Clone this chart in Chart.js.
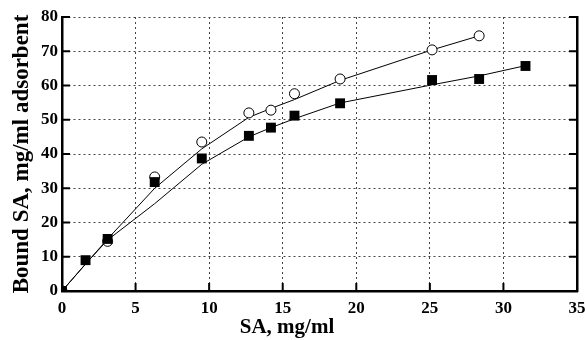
<!DOCTYPE html>
<html>
<head>
<meta charset="utf-8">
<script src="https://cdn.jsdelivr.net/npm/chart.js@4/dist/chart.umd.min.js"></script>
<style>
  body { margin: 0; background: #fff; }
  canvas { display: block; }
</style>
</head>
<body>
<canvas id="isoChart" width="585" height="340"></canvas>
<script>
// open circles
const saCircle = [0, 3.1, 6.3, 9.5, 12.7, 14.2, 15.8, 18.9, 25.15, 28.35];
const boundCircle = [0, 14.5, 33.3, 43.5, 52, 52.8, 57.6, 61.9, 70.4, 74.5];
const fitCircle = [0, 15.2, 30, 41.5, 50.7, 53.3, 55.9, 61.5, 70.4, 74.5];

// filled squares
const saSquare = [0, 1.6, 3.1, 6.3, 9.5, 12.7, 14.2, 15.8, 18.9, 25.15, 28.35, 31.5];
const boundSquare = [0, 9, 15.2, 31.8, 38.7, 45.3, 47.7, 51.2, 54.8, 61.6, 61.9, 65.7];
const fitSquare = [0, 7.9, 14.9, 25.5, 37.0, 45.0, 47.7, 50.3, 54.9, 60.2, 62.8, 65.8];

const xTitle = 'SA, mg/ml';
const yTitle = 'Bound SA, mg/ml adsorbent';

const toXY = (xs, ys) => xs.map((x, i) => ({x: x, y: ys[i]}));

const serif = 'Liberation Serif';

// inward tick marks and the axis titles
const framePlugin = {
  id: 'frame',
  afterDraw(chart) {
    const {ctx, chartArea: a, scales} = chart;
    ctx.save();
    ctx.strokeStyle = '#000';
    ctx.lineWidth = 2;
    ctx.beginPath();
    scales.x.ticks.forEach(t => {
      const px = scales.x.getPixelForValue(t.value);
      if (t.value > 0 && t.value < 35) {
        ctx.moveTo(px, a.bottom);
        ctx.lineTo(px, a.bottom - 8);
      }
    });
    scales.y.ticks.forEach(t => {
      const py = scales.y.getPixelForValue(t.value);
      if (t.value > 0) {
        ctx.moveTo(a.left, py);
        ctx.lineTo(a.left + 8, py);
        ctx.moveTo(a.right, py);
        ctx.lineTo(a.right - 8, py);
      }
    });
    ctx.stroke();

    ctx.fillStyle = '#000';
    ctx.font = 'bold 21px "' + serif + '"';
    ctx.textAlign = 'center';
    ctx.textBaseline = 'alphabetic';
    ctx.fillText(xTitle, 287, 333);

    ctx.translate(28, (a.top + a.bottom) / 2);
    ctx.rotate(-Math.PI / 2);
    ctx.font = 'bold 23px "' + serif + '"';
    ctx.fillText(yTitle, 0, 0);
    ctx.restore();
  }
};

new Chart(document.getElementById('isoChart'), {
  type: 'scatter',
  data: {
    datasets: [
      {
        label: 'squares',
        data: toXY(saSquare, boundSquare),
        pointStyle: 'rect',
        pointRadius: 7,
        backgroundColor: '#000',
        borderColor: '#000',
        borderWidth: 0,
        order: 1
      },
      {
        label: 'circles',
        data: toXY(saCircle, boundCircle),
        pointStyle: 'circle',
        pointRadius: 5,
        backgroundColor: '#fff',
        borderColor: '#000',
        borderWidth: 1,
        order: 2
      },
      {
        label: 'fit circles',
        data: toXY(saCircle, fitCircle),
        showLine: true,
        pointRadius: 0,
        borderColor: '#000',
        borderWidth: 1,
        order: 3
      },
      {
        label: 'fit squares',
        data: toXY(saSquare, fitSquare),
        showLine: true,
        pointRadius: 0,
        borderColor: '#000',
        borderWidth: 1,
        order: 4
      }
    ]
  },
  options: {
    responsive: false,
    animation: false,
    layout: { padding: { top: 17, left: 0, right: 0, bottom: 0 } },
    plugins: {
      legend: { display: false },
      tooltip: { enabled: false }
    },
    scales: {
      x: {
        type: 'linear',
        min: 0,
        max: 35,
        afterFit: s => { s.height = 49; s.paddingLeft = 0; s.paddingRight = 0; },
        ticks: {
          stepSize: 5,
          padding: 7,
          color: '#000',
          font: { family: serif, size: 17, weight: 'bold' }
        },
        grid: { color: '#444', lineWidth: 1, drawTicks: false },
        border: { color: '#000', width: 2.5, dash: [2, 3] }
      },
      y: {
        min: 0,
        max: 80,
        afterFit: s => { s.width = 62; s.paddingTop = 0; s.paddingBottom = 0; },
        ticks: {
          stepSize: 10,
          padding: 4,
          color: '#000',
          font: { family: serif, size: 17, weight: 'bold' }
        },
        grid: { color: '#444', lineWidth: 1, drawTicks: false },
        border: { color: '#000', width: 2.5, dash: [2, 3] }
      },
      y2: {
        position: 'right',
        min: 0,
        max: 80,
        afterFit: s => { s.width = 8; s.paddingTop = 0; s.paddingBottom = 0; },
        ticks: { display: false, stepSize: 10 },
        grid: { drawOnChartArea: false, drawTicks: false },
        border: { color: '#000', width: 2.5 }
      }
    }
  },
  plugins: [framePlugin]
});
</script>
</body>
</html>
